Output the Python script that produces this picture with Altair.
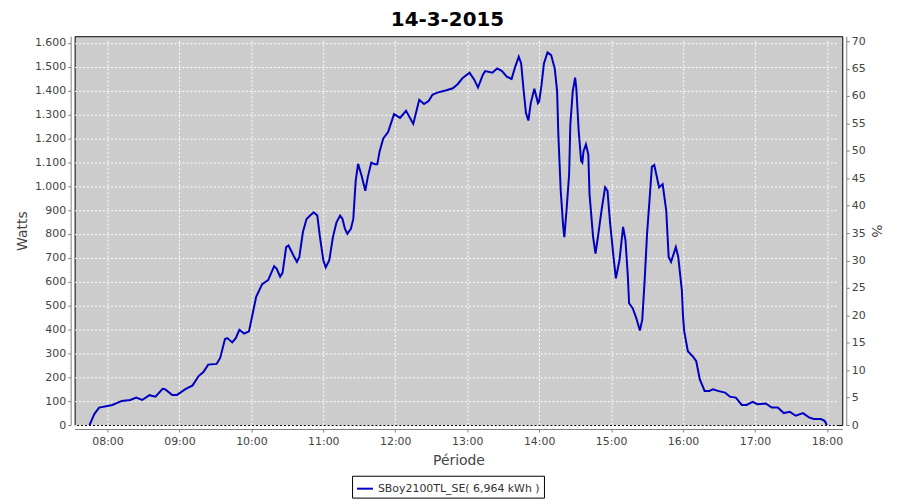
import altair as alt
import pandas as pd

# ---- data ----
times = [
    "07:45", "07:49", "07:53", "08:00", "08:04", "08:12", "08:19", "08:24", "08:29", "08:35",
    "08:40", "08:46", "08:48", "08:54", "08:58", "09:05", "09:11", "09:16", "09:20", "09:24",
    "09:31", "09:34", "09:38", "09:40", "09:44", "09:47", "09:50", "09:54", "09:58", "10:00",
    "10:04", "10:09", "10:14", "10:19", "10:21", "10:24", "10:26", "10:29", "10:31", "10:35",
    "10:38", "10:40", "10:43", "10:46", "10:49", "10:52", "10:55", "10:57", "11:00", "11:02",
    "11:05", "11:08", "11:11", "11:14", "11:16", "11:18", "11:20", "11:23", "11:25", "11:27",
    "11:29", "11:32", "11:35", "11:37", "11:40", "11:43", "11:45", "11:47", "11:50", "11:54",
    "11:59", "12:04", "12:09", "12:15", "12:20", "12:24", "12:28", "12:31", "12:35", "12:42",
    "12:48", "12:52", "12:56", "13:02", "13:06", "13:09", "13:13", "13:15", "13:21", "13:25",
    "13:29", "13:33", "13:37", "13:40", "13:43", "13:45", "13:47", "13:49", "13:51", "13:53",
    "13:56", "13:59", "14:00", "14:02", "14:04", "14:07", "14:10", "14:13", "14:15", "14:16",
    "14:18", "14:20", "14:21", "14:23", "14:25", "14:26", "14:28", "14:30", "14:31", "14:33",
    "14:35", "14:36", "14:37", "14:39", "14:41", "14:42", "14:45", "14:47", "14:49", "14:52",
    "14:55", "14:57", "14:59", "15:02", "15:04", "15:07", "15:10", "15:12", "15:14", "15:15",
    "15:18", "15:21", "15:24", "15:26", "15:28", "15:30", "15:32", "15:34", "15:36", "15:38",
    "15:40", "15:43", "15:46", "15:48", "15:50", "15:54", "15:56", "15:59", "16:00", "16:01",
    "16:04", "16:08", "16:11", "16:14", "16:18", "16:22", "16:25", "16:29", "16:35", "16:39",
    "16:44", "16:49", "16:53", "16:58", "17:02", "17:09", "17:14", "17:19", "17:24", "17:29",
    "17:34", "17:40", "17:45", "17:49", "17:55", "17:58", "18:00",
]
watts = [
    0, 46, 73, 80, 84, 101, 105, 115, 105, 125,
    119, 152, 150, 126, 126, 150, 166, 205, 222, 253,
    256, 281, 360, 364, 346, 364, 399, 383, 392, 440,
    537, 590, 607, 665, 655, 621, 637, 745, 752, 711,
    683, 704, 808, 863, 877, 891, 877, 794, 690, 660,
    690, 787, 849, 877, 863, 822, 801, 822, 863, 1022,
    1094, 1043, 981, 1036, 1099, 1092, 1092, 1147, 1200, 1227,
    1302, 1286, 1316, 1261, 1362, 1344, 1358, 1383, 1392, 1401,
    1410, 1427, 1452, 1475, 1445, 1413, 1466, 1482, 1475, 1493,
    1482, 1459, 1449, 1500, 1542, 1514, 1404, 1306, 1275, 1348,
    1408, 1348, 1355, 1424, 1514, 1560, 1549, 1493, 1396, 1217,
    981, 835, 787, 911, 1050, 1258, 1396, 1455, 1410, 1230,
    1106, 1099, 1147, 1175, 1133, 967, 787, 718, 787, 898,
    995, 981, 856, 704, 614, 690, 830, 773, 621, 510,
    489, 448, 396, 441, 607, 801, 939, 1081, 1089, 1043,
    995, 1008, 898, 704, 683, 745, 704, 565, 454, 392,
    309, 288, 267, 191, 143, 143, 150, 143, 136, 119,
    115, 84, 84, 97, 87, 90, 73, 73, 50, 55,
    39, 50, 32, 25, 25, 18, 0,
]
series_name = "SBoy2100TL_SE( 6,964 kWh )"
hour_ticks = list(range(8, 19))
watt_ticks = list(range(0, 1700, 100))
pct_ticks = list(range(0, 75, 5))

df = pd.DataFrame({
    "time": ["2015-03-14T" + t + ":00" for t in times],
    "watts": watts,
    "serie": [series_name] * len(times),
})
pct_df = pd.DataFrame({"pct": pct_ticks})

FONT = "DejaVu Sans"

def dt(h, m=0, s=0):
    return alt.DateTime(year=2015, month=3, date=14, hours=h, minutes=m, seconds=s)

line = alt.Chart(df).mark_line(strokeWidth=2, interpolate="linear").encode(
    x=alt.X(
        "time:T",
        scale=alt.Scale(domain=[dt(7, 32, 36), dt(18, 12, 48)]),
        axis=alt.Axis(
            title="Période",
            format="%H:%M",
            values=[dt(h) for h in hour_ticks],
            labelPadding=4,
            titlePadding=7,
        ),
    ),
    y=alt.Y(
        "watts:Q",
        scale=alt.Scale(domain=[0, 1628], nice=False, zero=True),
        axis=alt.Axis(
            title="Watts",
            values=watt_ticks,
            labelExpr="replace(format(datum.value, ','), ',', '.')",
            titlePadding=5,
        ),
    ),
    color=alt.Color(
        "serie:N",
        scale=alt.Scale(range=["#0000C0"]),
        legend=alt.Legend(
            title=None,
            orient="none",
            legendX=279,
            legendY=442,
            symbolType="stroke",
            symbolSize=256,
            symbolStrokeWidth=2,
            strokeColor="black",
            padding=4,
            labelFontSize=11,
            labelFont=FONT,
            labelColor="#333333",
            labelOffset=4,
            labelLimit=400,
        ),
    ),
)

right = alt.Chart(pct_df).mark_point(opacity=0).encode(
    y=alt.Y(
        "pct:Q",
        scale=alt.Scale(domain=[0, 70.9], nice=False),
        axis=alt.Axis(
            title="%",
            orient="right",
            values=pct_ticks,
            grid=False,
            titlePadding=3,
        ),
    ),
)

chart = (
    alt.layer(line, right)
    .resolve_scale(y="independent")
    .properties(
        width=772,
        height=391,
        autosize=alt.AutoSizeParams(type="none"),
        padding={"left": 67, "top": 27, "right": 50, "bottom": 74},
        title=alt.TitleParams(
            "14-3-2015",
            font=FONT,
            fontSize=20,
            fontWeight="bold",
            color="black",
            anchor="middle",
            offset=5,
            dx=-11,
        ),
    )
    .configure_view(fill="#CCCCCC", stroke="black", strokeWidth=1)
    .configure_axis(
        labelFont=FONT,
        labelFontSize=11,
        labelColor="#444444",
        titleFont=FONT,
        titleFontSize=14,
        titleFontWeight="normal",
        titleColor="#444444",
        domainColor="#808080",
        tickColor="#808080",
        tickSize=3,
        offset=4,
        gridColor="white",
        gridDash=[2, 2],
        gridOpacity=1,
        gridWidth=1,
    )
)

chart.save("out.html", embed_options={"renderer": "svg", "actions": False})
